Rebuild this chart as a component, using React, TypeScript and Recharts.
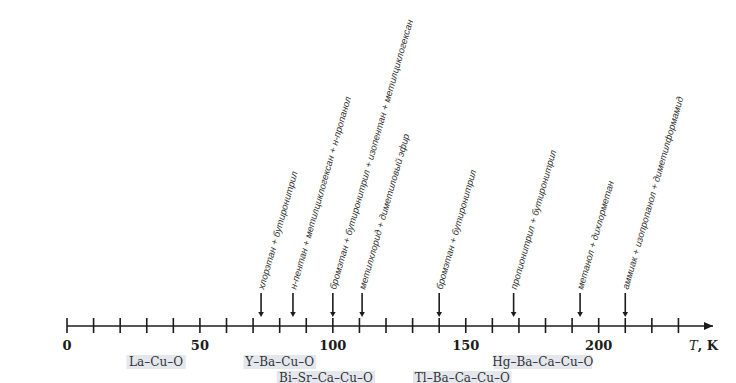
import React from 'react';
import { ScatterChart, Scatter, XAxis, YAxis, ReferenceDot } from 'recharts';

// freezing points of the cooling mixtures, K
const mixTemps = [73, 85, 100, 111, 140, 168, 193, 210];
const mixLabels = [
  'хлорэтан + бутиронитрил',
  'н-пентан + метилциклогексан + н-пропанол',
  'бромэтан + бутиронитрил + изопентан + метилциклогексан',
  'метилхлорид + диметиловый эфир',
  'бромэтан + бутиронитрил',
  'пропионитрил + бутиронитрил',
  'метанол + дихлорметан',
  'аммиак + изопропанол + диметилформамид',
];

// superconductor families (box centre on the T scale) and their row under the axis
const sampleNames = ['La–Cu–O', 'Y–Ba–Cu–O', 'Bi–Sr–Ca–Cu–O', 'Tl–Ba–Ca–Cu–O', 'Hg–Ba–Ca–Cu–O'];
const sampleTemps = [33.5, 80, 97.4, 148.7, 179];
const sampleRows = [0, 0, 1, 1, 0];

const tickValues = [0, 10, 20, 30, 40, 50, 60, 70, 80, 90, 100, 110, 120, 130, 140, 150, 160, 170, 180, 190, 200, 210, 220, 230];
const tickLabels = [0, 50, 100, 150, 200];

const axisMax = 243;
const ink = '#1c1c1c';

const mixData = mixTemps.map((t, i) => ({ t, y: 0, label: mixLabels[i] }));
const sampleData = sampleNames.map((name, i) => ({ t: sampleTemps[i], y: 0, name, row: sampleRows[i] }));

const AxisTick = (props: any) => {
  const { x, y, payload } = props;
  const v = payload.value;
  return (
    <g>
      <line x1={x} x2={x} y1={y - 8} y2={y + 7} stroke={ink} strokeWidth={1.6} />
      {tickLabels.includes(v) && (
        <text x={x} y={y + 24} textAnchor="middle" fontFamily="DejaVu Serif" fontWeight="bold" fontSize={13} fill={ink}>
          {v}
        </text>
      )}
    </g>
  );
};

const MixArrow = (props: any) => {
  const { cx, cy, payload } = props;
  const top = cy - 33;
  const tip = cy - 9;
  return (
    <g>
      <line x1={cx} x2={cx} y1={top} y2={tip - 4} stroke={ink} strokeWidth={1.6} />
      <path d={`M${cx - 2.8},${tip - 5} L${cx + 2.8},${tip - 5} L${cx},${tip} Z`} fill={ink} />
      <text
        x={cx + 3}
        y={top - 3}
        transform={`rotate(-74 ${cx + 3} ${top - 3})`}
        fontFamily="Liberation Sans"
        fontStyle="italic"
        fontSize={9.5}
        fill="#333"
      >
        {payload.label}
      </text>
    </g>
  );
};

const SampleBox = (props: any) => {
  const { cx, cy, payload } = props;
  const w = payload.name.length * 6.5 + 14;
  const top = cy + 29 + payload.row * 16;
  return (
    <g>
      <rect x={cx - w / 2} y={top} width={w} height={14} fill="#e4e8ee" />
      <text x={cx} y={top + 10.5} textAnchor="middle" fontFamily="DejaVu Serif" fontSize={12} fill="#333">
        {payload.name}
      </text>
    </g>
  );
};

const AxisEnd = (props: any) => {
  const { cx, cy } = props;
  return (
    <g>
      <path d={`M${cx - 9},${cy - 4} L${cx},${cy} L${cx - 9},${cy + 4} Z`} fill={ink} />
      <text x={cx + 5} y={cy + 24} textAnchor="end" fontFamily="DejaVu Serif" fontWeight="bold" fontSize={13} fill={ink}>
        <tspan fontStyle="italic" fontWeight="normal">T</tspan>, K
      </text>
    </g>
  );
};

export default function App() {
  return (
    <div style={{ position: 'absolute', left: 0, top: 0, background: '#fff' }}>
      <ScatterChart width={736} height={383} margin={{ top: 0, right: 23, bottom: 0, left: 67 }}>
        <XAxis
          type="number"
          dataKey="t"
          domain={[0, axisMax]}
          ticks={tickValues}
          interval={0}
          height={57}
          tickSize={0}
          tickMargin={0}
          tickLine={false}
          axisLine={{ stroke: ink, strokeWidth: 1.6 }}
          tick={<AxisTick />}
        />
        <YAxis type="number" dataKey="y" domain={[0, 1]} hide />
        <Scatter data={sampleData} shape={<SampleBox />} isAnimationActive={false} />
        <Scatter data={mixData} shape={<MixArrow />} isAnimationActive={false} />
        <ReferenceDot x={axisMax} y={0} ifOverflow="visible" shape={<AxisEnd />} />
      </ScatterChart>
    </div>
  );
}
